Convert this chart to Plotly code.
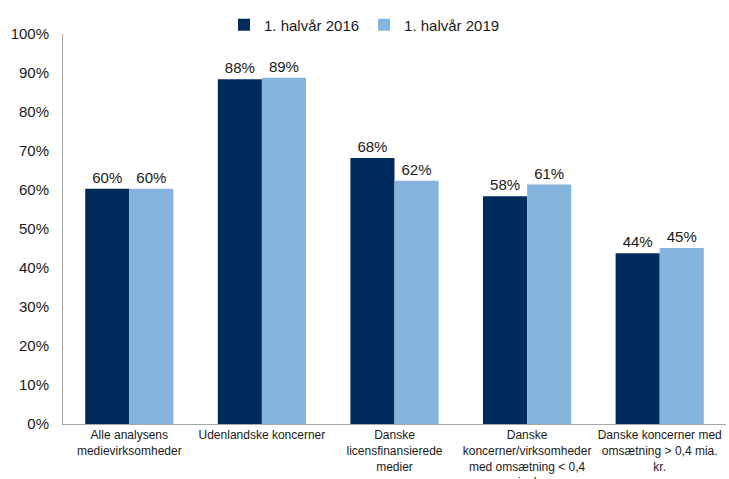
import plotly.graph_objects as go

# Category labels (with manual line breaks) and shares per period
categories = [
    "Alle analysens<br>medievirksomheder",
    "Udenlandske koncerner",
    "Danske<br>licensfinansierede<br>medier",
    "Danske<br>koncerner/virksomheder<br>med omsætning < 0,4<br>mia. kr.",
    "Danske koncerner med<br>omsætning > 0,4 mia.<br>kr.",
]
share_2016 = [0.603, 0.884, 0.682, 0.584, 0.438]
share_2019 = [0.603, 0.888, 0.624, 0.614, 0.451]

series_names = ["1. halvår 2016", "1. halvår 2019"]
colors = ["#002B5C", "#85B5DD"]
y_ticks = [i / 10 for i in range(11)]

font_family = "Liberation Sans, Arial, sans-serif"

fig = go.Figure()
for name, vals, col in zip(series_names, [share_2016, share_2019], colors):
    fig.add_trace(go.Bar(
        x=categories,
        y=vals,
        name=name,
        marker=dict(color=col, line=dict(width=0)),
        texttemplate="%{y:.0%}",
        textposition="outside",
        textfont=dict(size=15, color="#1a1a1a", family=font_family),
        cliponaxis=False,
    ))

fig.update_layout(
    width=729,
    height=479,
    margin=dict(l=63, r=3, t=34, b=55, autoexpand=False),
    paper_bgcolor="white",
    plot_bgcolor="white",
    barmode="group",
    bargap=0.335,
    bargroupgap=0,
    font=dict(family=font_family, color="#1a1a1a"),
    showlegend=True,
    legend=dict(
        orientation="h",
        xref="container",
        yref="container",
        x=0.5,
        xanchor="center",
        y=0.982,
        yanchor="top",
        font=dict(size=15, color="#1a1a1a"),
        itemwidth=30,
        traceorder="normal",
    ),
)

fig.update_yaxes(
    range=[0, 1.0],
    tickvals=y_ticks,
    tickformat=".0%",
    tickfont=dict(size=15, color="#1a1a1a"),
    showgrid=False,
    zeroline=False,
    showline=True,
    linecolor="#A6A6A6",
    linewidth=1,
    ticks="",
    ticklabelstandoff=10,
    automargin=False,
)
fig.update_xaxes(
    tickfont=dict(size=12, color="#1a1a1a"),
    tickangle=0,
    showline=True,
    linecolor="#A6A6A6",
    linewidth=1,
    ticks="",
    automargin=False,
)

fig.write_html("out.html")
